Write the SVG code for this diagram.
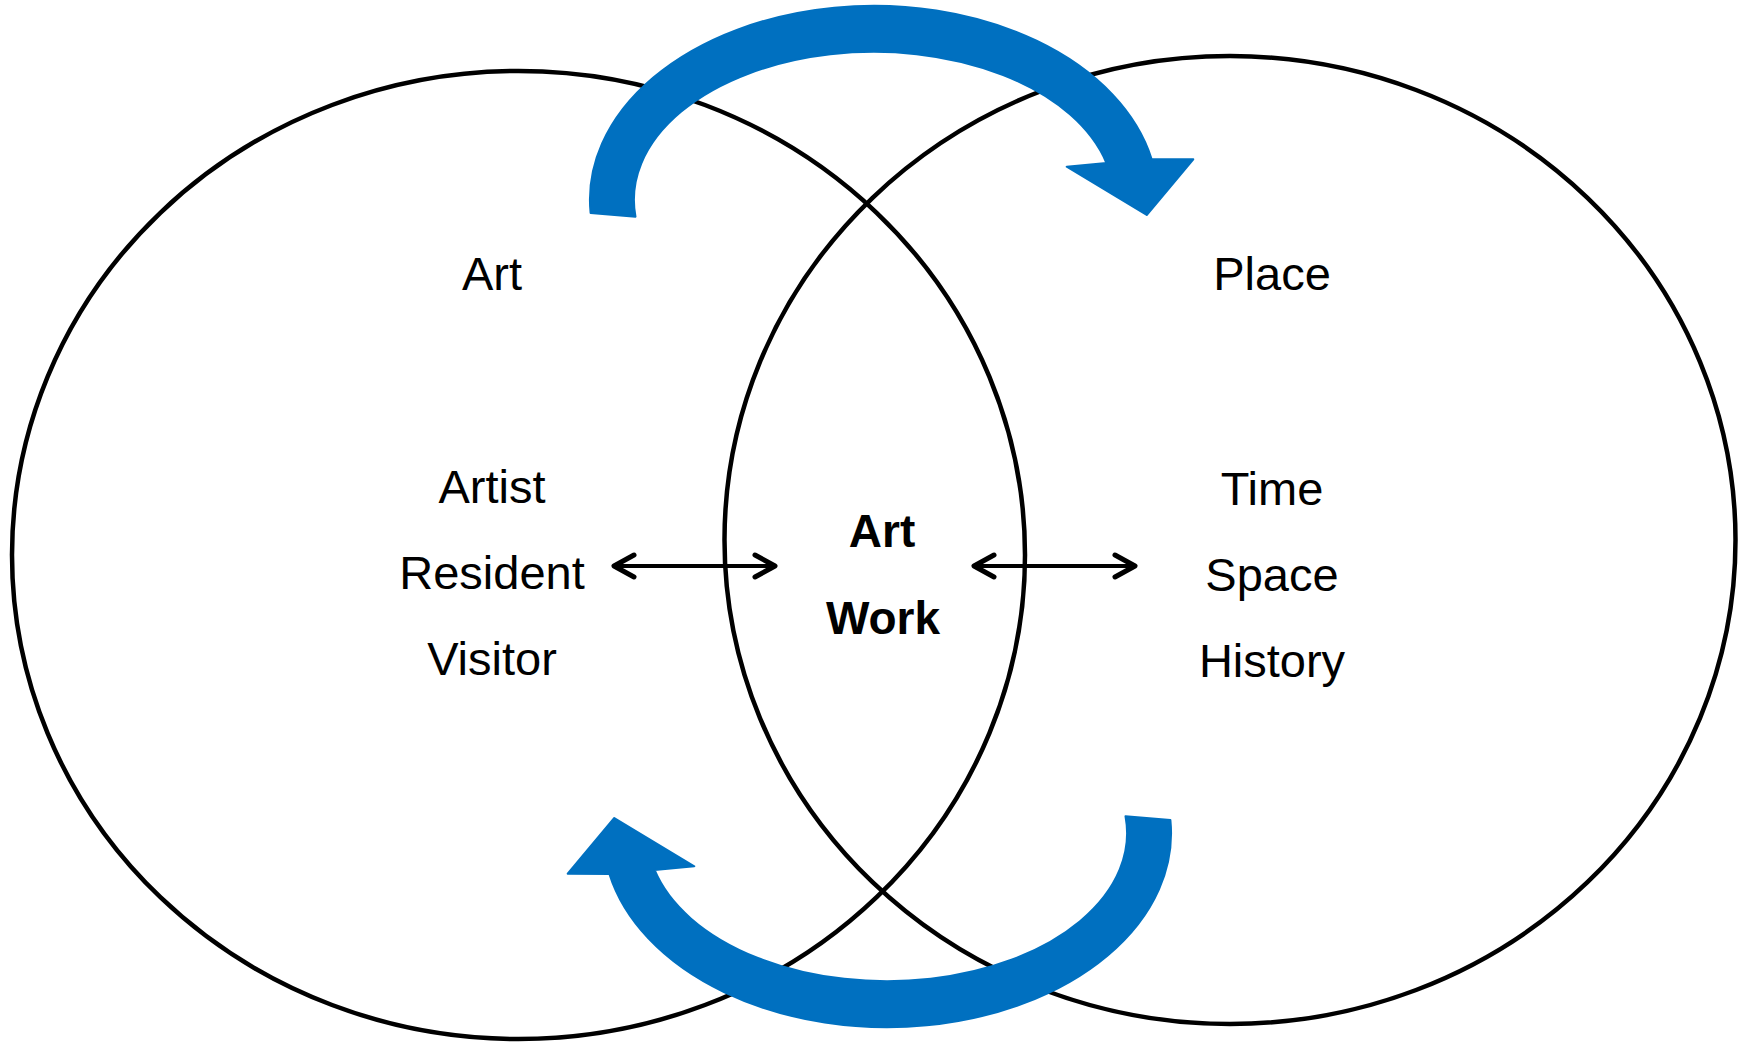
<svg xmlns="http://www.w3.org/2000/svg" width="1746" height="1042" viewBox="0 0 1746 1042">
  <style>
    .ring { fill: none; stroke: #000; stroke-width: 4.5; }
    .lbl { font-family: "Liberation Sans", Arial, sans-serif; font-size: 47px; fill: #000; text-anchor: middle; }
    .bold { font-family: "Liberation Sans", Arial, sans-serif; font-size: 46px; font-weight: bold; fill: #000; text-anchor: middle; }
    .link { fill: none; stroke: #000; stroke-width: 4; }
    .chev { fill: none; stroke: #000; stroke-width: 5; stroke-linecap: round; stroke-linejoin: round; }
    .cyc { fill: #0070C0; stroke: #0070C0; stroke-width: 2; stroke-linejoin: round; }
  </style>
  <defs>
    <path id="cycleArrow" class="cyc" d="M 590.6,213 A 284,194 0 0 1 1151.6,159 L 1193.3,159.3 L 1146.7,215 L 1066.7,166.7 L 1106.4,163 A 240,148 0 0 0 635.5,216.7 Z"/>
  </defs>
  <rect x="0" y="0" width="1746" height="1042" fill="#fff"/>

  <g id="circle-art">
    <ellipse class="ring" cx="518.5" cy="555" rx="506.5" ry="484"/>
    <text class="lbl" x="492" y="290">Art</text>
    <text class="lbl" x="492" y="503">Artist</text>
    <text class="lbl" x="492" y="589">Resident</text>
    <text class="lbl" x="492" y="675">Visitor</text>
  </g>

  <g id="circle-place">
    <ellipse class="ring" cx="1230" cy="540" rx="505.5" ry="484"/>
    <text class="lbl" x="1272" y="290">Place</text>
    <text class="lbl" x="1272" y="505">Time</text>
    <text class="lbl" x="1272" y="591">Space</text>
    <text class="lbl" x="1272" y="677">History</text>
  </g>

  <g id="artwork">
    <text class="bold" x="882" y="547">Art</text>
    <text class="bold" x="883" y="634">Work</text>
  </g>

  <g id="connectors">
    <line class="link" x1="616" y1="566" x2="773" y2="566"/>
    <polyline class="chev" points="634,555 614,566 634,577"/>
    <polyline class="chev" points="755,555 775,566 755,577"/>
    <line class="link" x1="976" y1="566" x2="1133" y2="566"/>
    <polyline class="chev" points="994,555 974,566 994,577"/>
    <polyline class="chev" points="1115,555 1135,566 1115,577"/>
    <use href="#cycleArrow"/>
    <use href="#cycleArrow" transform="rotate(180 880.5 516.5)"/>
  </g>
</svg>
